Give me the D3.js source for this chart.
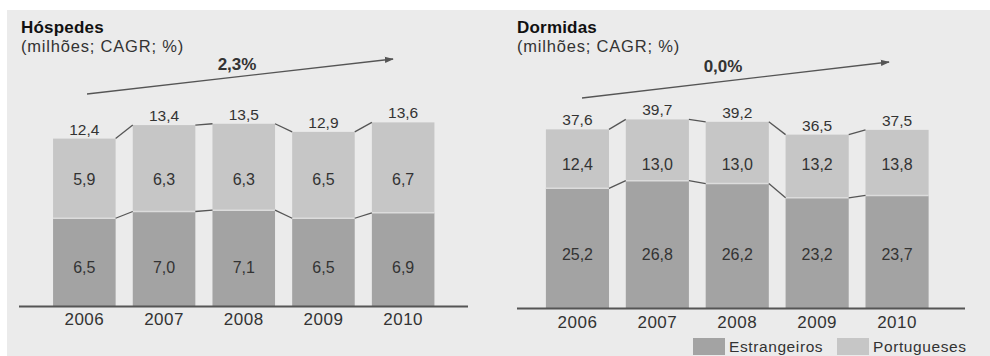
<!DOCTYPE html>
<html>
<head>
<meta charset="utf-8">
<script src="https://cdn.jsdelivr.net/npm/d3@7"></script>
<style>
  html, body { margin: 0; padding: 0; background: #fff; }
  svg { display: block; }
  text { font-family: Arial, "Liberation Sans", Helvetica, sans-serif; }
</style>
</head>
<body>
<svg id="chart" width="990" height="356"></svg>
<script>
// Data
const years = ["2006", "2007", "2008", "2009", "2010"];

const hospedesEstrangeiros = [6.5, 7.0, 7.1, 6.5, 6.9];
const hospedesPortugueses  = [5.9, 6.3, 6.3, 6.5, 6.7];
const hospedesTotal        = [12.4, 13.4, 13.5, 12.9, 13.6];
const hospedesCagr = "2,3%";

const dormidasEstrangeiros = [25.2, 26.8, 26.2, 23.2, 23.7];
const dormidasPortugueses  = [12.4, 13.0, 13.0, 13.2, 13.8];
const dormidasTotal        = [37.6, 39.7, 39.2, 36.5, 37.5];
const dormidasCagr = "0,0%";

const legendLabels = ["Estrangeiros", "Portugueses"];

const fmt = v => d3.format(".1f")(v).replace(".", ",");

const COLORS = { bg: "#ebebeb", dark: "#a3a3a3", light: "#c6c6c6", line: "#555", text: "#333", title: "#111" };

const svg = d3.select("#chart");

svg.append("rect").attr("x", 7).attr("y", 10).attr("width", 983).attr("height", 346).attr("fill", COLORS.bg);

const defs = svg.append("defs");
defs.append("marker")
  .attr("id", "arrow").attr("viewBox", "0 0 10 10")
  .attr("refX", 9).attr("refY", 5)
  .attr("markerWidth", 7).attr("markerHeight", 7)
  .attr("orient", "auto")
  .append("path").attr("d", "M0,1.5 L10,5 L0,8.5 Z").attr("fill", COLORS.line);

function panel(cfg) {
  const g = svg.append("g");
  const x = d3.scaleBand().domain(years).range(cfg.xRange).paddingInner(cfg.pad).paddingOuter(cfg.pad / 2);
  const y = d3.scaleLinear().domain(cfg.yDomain).range([cfg.base, cfg.yTop]);
  const bw = x.bandwidth();

  // titles
  g.append("text").attr("x", cfg.titleX).attr("y", 33).attr("font-size", 17).attr("font-weight", "bold")
    .attr("letter-spacing", 0.2).attr("fill", COLORS.title).text(cfg.title);
  g.append("text").attr("x", cfg.titleX).attr("y", 52).attr("font-size", 16.5)
    .attr("letter-spacing", 0.8).attr("fill", COLORS.text).text("(milhões; CAGR; %)");

  // CAGR arrow
  g.append("line").attr("x1", cfg.arrow[0]).attr("y1", cfg.arrow[1]).attr("x2", cfg.arrow[2]).attr("y2", cfg.arrow[3])
    .attr("stroke", COLORS.line).attr("stroke-width", 1.3).attr("marker-end", "url(#arrow)");
  g.append("text").attr("x", cfg.cagrX).attr("y", cfg.cagrY).attr("text-anchor", "middle")
    .attr("font-size", 17).attr("font-weight", "bold").attr("fill", COLORS.text).text(cfg.cagr);

  // stacked bars
  const rows = years.map((yr, i) => ({ yr, a: cfg.est[i], b: cfg.por[i], t: cfg.tot[i] }));
  g.selectAll(".dk").data(rows).join("rect")
    .attr("x", d => x(d.yr)).attr("width", bw)
    .attr("y", d => y(d.a)).attr("height", d => y(0) - y(d.a)).attr("fill", COLORS.dark);
  g.selectAll(".lt").data(rows).join("rect")
    .attr("x", d => x(d.yr)).attr("width", bw)
    .attr("y", d => y(d.t)).attr("height", d => y(d.a) - y(d.t)).attr("fill", COLORS.light);
  g.selectAll(".sep").data(rows).join("line")
    .attr("x1", d => x(d.yr)).attr("x2", d => x(d.yr) + bw)
    .attr("y1", d => y(d.a)).attr("y2", d => y(d.a))
    .attr("stroke", "#dcdcdc").attr("stroke-width", 1.5);

  // connectors between neighbouring bars
  const pairs = rows.slice(0, -1).map((d, i) => [d, rows[i + 1]]);
  ["t", "a"].forEach(k => {
    g.selectAll(".c" + k).data(pairs).join("line")
      .attr("x1", p => x(p[0].yr) + bw).attr("y1", p => y(p[0][k]))
      .attr("x2", p => x(p[1].yr)).attr("y2", p => y(p[1][k]))
      .attr("stroke", COLORS.line).attr("stroke-width", 1.3);
  });

  // labels
  const cx = d => x(d.yr) + bw / 2;
  g.selectAll(".tl").data(rows).join("text")
    .attr("x", cx).attr("y", d => y(d.t) - 4).attr("text-anchor", "middle")
    .attr("font-size", 15.5).attr("fill", COLORS.text).text(d => fmt(d.t));
  g.selectAll(".bl").data(rows).join("text")
    .attr("x", cx).attr("y", cfg.lightRow).attr("text-anchor", "middle")
    .attr("font-size", 16).attr("fill", COLORS.text).text(d => fmt(d.b));
  g.selectAll(".al").data(rows).join("text")
    .attr("x", cx).attr("y", cfg.darkRow).attr("text-anchor", "middle")
    .attr("font-size", 16).attr("fill", COLORS.text).text(d => fmt(d.a));

  // axis
  const axis = g.append("g").attr("transform", `translate(0,${cfg.base})`)
    .call(d3.axisBottom(x).tickSize(0).tickPadding(cfg.tickPad));
  axis.select(".domain").remove();
  axis.selectAll("text").attr("font-size", 17).attr("fill", COLORS.text).attr("letter-spacing", 0.5)
    .attr("font-family", "Arial, 'Liberation Sans', sans-serif");
  g.append("line").attr("x1", cfg.axisX[0]).attr("x2", cfg.axisX[1])
    .attr("y1", cfg.base + 0.5).attr("y2", cfg.base + 0.5)
    .attr("stroke", COLORS.line).attr("stroke-width", 1.8);
}

panel({
  title: "Hóspedes", titleX: 21, cagr: hospedesCagr, cagrX: 237, cagrY: 70,
  arrow: [87, 94, 393, 59],
  est: hospedesEstrangeiros, por: hospedesPortugueses, tot: hospedesTotal,
  xRange: [44.5, 443], pad: 0.215, yDomain: [0, 14], base: 306, yTop: 306 - 14 * 13.5,
  lightRow: 185, darkRow: 273, axisX: [19, 468], tickPad: 7
});

panel({
  title: "Dormidas", titleX: 517, cagr: dormidasCagr, cagrX: 723, cagrY: 72,
  arrow: [582, 98, 889, 62],
  est: dormidasEstrangeiros, por: dormidasPortugueses, tot: dormidasTotal,
  xRange: [537.5, 937], pad: 0.21, yDomain: [0, 40], base: 308, yTop: 308 - 40 * 4.75,
  lightRow: 170, darkRow: 260, axisX: [517, 965], tickPad: 8
});

// legend
const legendColors = [COLORS.dark, COLORS.light];
const legendX = [693, 837];
const lg = svg.append("g");
legendLabels.forEach((lab, i) => {
  lg.append("rect").attr("x", legendX[i]).attr("y", 338).attr("width", 32).attr("height", 17).attr("fill", legendColors[i]);
  lg.append("text").attr("x", legendX[i] + 36).attr("y", 352).attr("font-size", 15.5)
    .attr("letter-spacing", 0.6).attr("fill", COLORS.text).text(lab);
});
</script>
</body>
</html>
